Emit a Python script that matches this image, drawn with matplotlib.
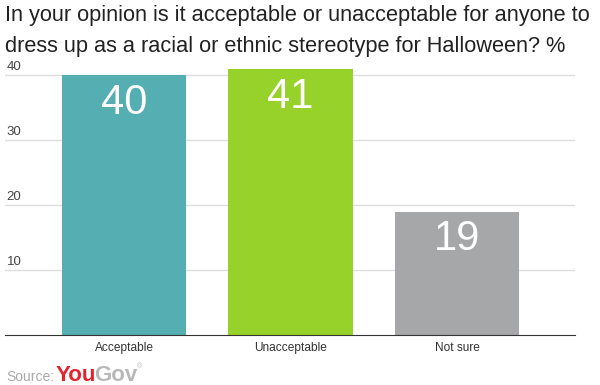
import numpy as np
import matplotlib.pyplot as plt

plt.rcParams['font.family'] = ['Liberation Sans', 'DejaVu Sans']

categories = ['Acceptable', 'Unacceptable', 'Not sure']
values = [40, 41, 19]
colors = ['#55aeb1', '#97d22b', '#a6a7a9']
yticks = [10, 20, 30, 40]
title_lines = ['In your opinion is it acceptable or unacceptable for anyone to',
               'dress up as a racial or ethnic stereotype for Halloween? %']

W, H = 600, 385
fig = plt.figure(figsize=(6, 3.85), dpi=100)
ax = fig.add_axes([5 / W, 1 - 335 / H, 570 / W, (335 - 62) / H])

x = np.arange(len(categories))
ax.bar(x, values, width=0.745, color=colors, zorder=2)
ax.set_xlim(-0.715, 2.709)
ax.set_ylim(0, 42)

for y in yticks:
    ax.axhline(y, color='#dddddd', lw=1, zorder=1)
    ax.text(0.003, y + 0.8, str(y), transform=ax.get_yaxis_transform(),
            fontsize=9.5, color='#444444', va='baseline', ha='left')

for xi, v in zip(x, values):
    ax.text(xi, v - 6.0, str(v), ha='center', va='baseline', color='white', fontsize=30)

for s in ['top', 'right', 'left']:
    ax.spines[s].set_visible(False)
ax.spines['bottom'].set_color('#333333')
ax.set_yticks([])
ax.set_xticks(x)
ax.set_xticklabels(categories, fontsize=8.6, color='#333333')
ax.tick_params(axis='x', length=0, pad=5)

fig.text(5 / W, 1 - 21 / H, title_lines[0], fontsize=15.7, color='#222222', va='baseline', ha='left')
fig.text(5 / W, 1 - 52 / H, title_lines[1], fontsize=15.7, color='#222222', va='baseline', ha='left')

fig.text(6 / W, 1 - 381 / H, 'Source:', fontsize=10, color='#aaaaaa', va='baseline')
fig.text(56 / W, 1 - 381 / H, 'You', fontsize=16, color='#e3232d', weight='bold', va='baseline')
fig.text(94.5 / W, 1 - 381 / H, 'Gov', fontsize=16, color='#b8b8b8', weight='bold', va='baseline')
fig.text(137 / W, 1 - 368 / H, '\u00ae', fontsize=5, color='#b8b8b8', va='baseline')

fig.savefig('out.png', dpi=100)
